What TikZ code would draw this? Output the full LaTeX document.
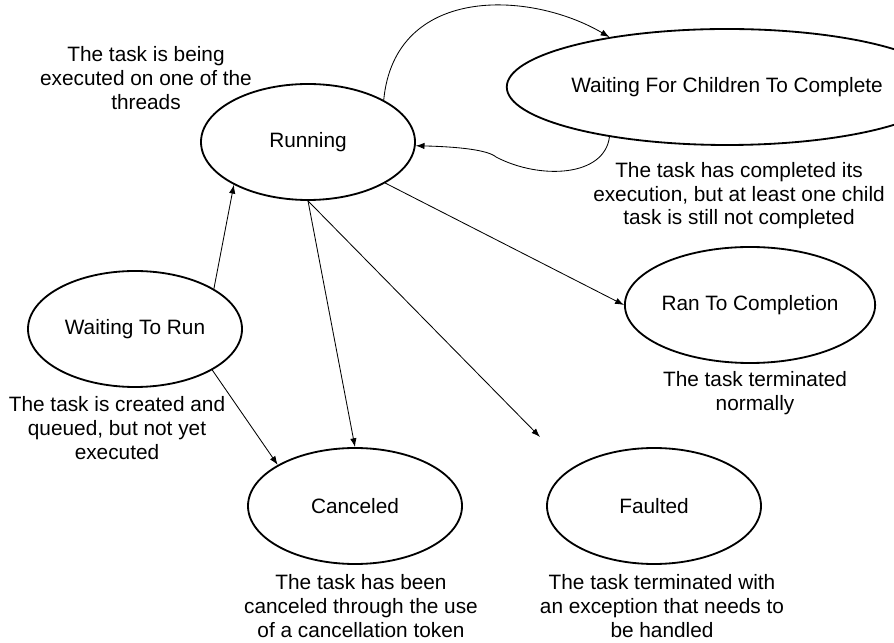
\documentclass[tikz,border=0pt]{standalone}
\usepackage{fontspec}
\setmainfont{Liberation Sans}
\usetikzlibrary{shapes.geometric,arrows.meta}

\begin{document}
\begin{tikzpicture}[
    state/.style={draw, ellipse, line width=1.3pt, minimum width=5.35cm, minimum height=2.9cm, inner sep=0pt},
    note/.style={align=center},
    link/.style={-{Latex[length=2.2mm,width=1.6mm]}, line width=0.6pt},
    every node/.style={font=\fontsize{14.8}{16.8}\selectfont}
]
    \useasboundingbox (0,0) rectangle (22.35,16.05);

    % States
    \node[state] (run) at (7.7,12.5) {Running};
    \node[state, minimum width=8.25cm] (wfc) at (18.175,13.875) {Waiting For Children To Complete};
    \node[state] (wtr) at (3.375,7.825) {Waiting To Run};
    \node[state] (ran) at (18.75,8.425) {Ran To Completion};
    \node[state] (can) at (8.875,3.4) {Canceled};
    \node[state] (fau) at (16.35,3.4) {Faulted};

    % Descriptions
    \node[note] (runtxt) at (3.65,14.1) {The task is being\\executed on one of the\\threads};
    \node[note] (wfctxt) at (18.475,11.15) {The task has completed its\\execution, but at least one child\\task is still not completed};
    \node[note] (rantxt) at (18.875,6.225) {The task terminated\\normally};
    \node[note] (wtrtxt) at (2.925,5.35) {The task is created and\\queued, but not yet\\executed};
    \node[note] (cantxt) at (9.025,0.9) {The task has been\\canceled through the use\\of a cancellation token};
    \node[note] (fautxt) at (16.55,0.9) {The task terminated with\\an exception that needs to\\be handled};

    % Transitions
    \coordinate (lost) at (13.5,5.125);
    \coordinate (kink) at (12.4,12.125);
    \draw[link] (wtr.27) -- (run.210);
    \draw[link] (wtr.-28) -- (can.152);
    \draw[link] (run.south) -- (can.north);
    \draw[link] (run.south) -- (lost);
    \draw[link] (run.-28) -- (ran.west);
    \draw[link] (run.29) .. controls +(0.275,2.875) and +(-2.0,1.175) .. (wfc.157);
    \draw[link] (wfc.203) .. controls +(-0.125,-1.0) and +(1.1,-0.575) .. (kink)
        .. controls +(-0.2,0.175) and +(1.075,-0.025) .. (run.-2);
\end{tikzpicture}
\end{document}
